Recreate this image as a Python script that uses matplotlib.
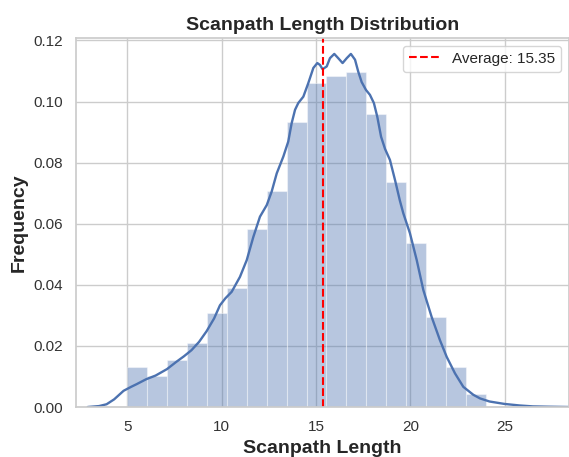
import numpy as np
import matplotlib
matplotlib.use("Agg")
import matplotlib.pyplot as plt
import seaborn as sns

# histogram (density): 18 bins from 5 to 24
bin_lo, bin_hi, n_bins = 5, 24, 18
hist_density = [0.0131, 0.0102, 0.0153, 0.0208, 0.0309, 0.0390, 0.0583, 0.0708, 0.0932,
                0.1060, 0.1084, 0.1097, 0.0958, 0.0738, 0.0538, 0.0295, 0.0131, 0.0044]

# kde curve
kde_x = [2.9, 3.5, 3.9, 4.3, 4.8, 5.2, 5.5, 6.0, 6.5, 7.1, 7.6, 8.0, 8.4, 8.8, 9.2,
         9.6, 9.91, 10.2, 10.53, 10.97, 11.33, 11.68, 12.03, 12.39, 12.65, 12.92, 13.27,
         13.53, 13.71, 13.89, 14.06, 14.33, 14.59, 14.86, 15.07, 15.21, 15.35, 15.57,
         15.74, 15.97, 16.18, 16.41, 16.63, 16.85, 17.07, 17.24, 17.42, 17.65, 17.86,
         18.07, 18.25, 18.45, 18.66, 18.92, 19.19, 19.45, 19.63, 19.98, 20.34, 20.69,
         21.13, 21.57, 21.93, 22.37, 22.81, 23.34, 23.7, 24.2, 25.0, 25.8, 26.5, 27.3, 28.4]
kde_y = [0.0, 0.0003, 0.0009, 0.0025, 0.0053, 0.0066, 0.0075, 0.0091, 0.0103, 0.0124,
         0.0148, 0.0166, 0.0186, 0.0213, 0.0248, 0.0290, 0.0333, 0.0356, 0.0377, 0.0426,
         0.0481, 0.0557, 0.0623, 0.0661, 0.0705, 0.0765, 0.0820, 0.0869, 0.0929, 0.0973,
         0.0995, 0.1016, 0.1060, 0.1110, 0.1126, 0.1120, 0.1106, 0.1115, 0.1142, 0.1156,
         0.1142, 0.1126, 0.1142, 0.1156, 0.1137, 0.1098, 0.1064, 0.1038, 0.1022, 0.0995,
         0.0950, 0.0885, 0.0845, 0.0809, 0.0743, 0.0675, 0.0634, 0.0569, 0.0481, 0.0383,
         0.0295, 0.0219, 0.0164, 0.0110, 0.0066, 0.0040, 0.0028, 0.0018, 0.0010, 0.0005,
         0.0002, 0.0001, 0.0]

average = 15.35

sns.set_theme(style="whitegrid")
plt.rcParams['font.family'] = ['Liberation Sans', 'DejaVu Sans']

fig = plt.figure(figsize=(5.69, 4.57), dpi=100)
ax = fig.add_axes([0.1336, 0.1094, 0.866, 0.8074])

edges = np.linspace(bin_lo, bin_hi, n_bins + 1)
ax.bar(edges[:-1], hist_density, width=np.diff(edges), align='edge',
       color='#4c72b0', alpha=0.4, edgecolor='white', linewidth=0.8)
ax.plot(kde_x, kde_y, color='#4c72b0', linewidth=1.7, solid_joinstyle='round')
ax.axvline(average, color='red', linestyle='--', linewidth=1.5,
           label=f'Average: {average:.2f}')

ax.set_xlim(2.28, 28.4)
ax.set_ylim(0, 0.1208)
ax.set_xticks([5, 10, 15, 20, 25])
ax.set_yticks(np.arange(0, 0.121, 0.02))
ax.yaxis.set_major_formatter(matplotlib.ticker.FormatStrFormatter('%.2f'))
ax.tick_params(labelsize=11, colors='#333333')

ax.set_title('Scanpath Length Distribution', fontsize=14, fontweight='bold', color='#262626')
ax.set_xlabel('Scanpath Length', fontsize=14, fontweight='bold', color='#262626')
ax.set_ylabel('Frequency', fontsize=14, fontweight='bold', color='#262626')
ax.legend(loc='upper right', fontsize=11)

fig.savefig('out.png', dpi=100)
